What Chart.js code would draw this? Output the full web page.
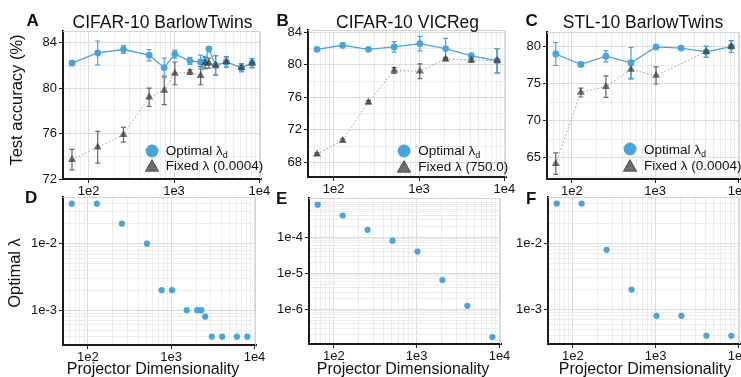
<!DOCTYPE html>
<html><head><meta charset="utf-8">
<script src="https://cdn.jsdelivr.net/npm/chart.js@4.4.1/dist/chart.umd.min.js"></script>
<style>
html,body{margin:0;padding:0;background:#fff;}
body{width:741px;height:377px;position:relative;overflow:hidden;font-family:"Liberation Sans",Arial,Helvetica,sans-serif;color:#111;}
canvas{position:absolute;}
.t{position:absolute;white-space:nowrap;line-height:1;}
svg{position:absolute;overflow:visible;}
</style></head><body>
<script>
// ---------------- DATA ----------------
const dimsFine = [64,128,256,512,768,1024,1536,2048,2304,2560,3072,4096,6144,8192];
const dimsPow2 = [64,128,256,512,1024,2048,4096,8192];

// Panel A: CIFAR-10 BarlowTwins
const accA_opt = [82.2, 83.1, 83.4, 82.9, 81.8, 83.0, 82.4, 82.3, 82.3, 83.45, 82.0, 82.3, 81.8, 82.2];
const errA_opt = [0.2, 1.05, 0.35, 0.5, 0.85, 0.35, 0.3, 0.6, 0.5, 0.15, 0.85, 0.45, 0.35, 0.4];
const accA_fix = [73.7, 74.8, 75.9, 79.2, 79.8, 81.3, 81.4, 81.1, 82.2, 82.2, 82.0, 82.3, 81.8, 82.2];
const errA_fix = [0.9, 1.4, 0.65, 0.8, 1.25, 1.0, 0.2, 0.8, 0.5, 0.45, 0.85, 0.45, 0.35, 0.4];

// Panel B: CIFAR-10 VICReg
const accB_opt = [81.9, 82.4, 81.9, 82.2, 82.6, 82.0, 81.1, 80.5];
const errB_opt = [0.2, 0.3, 0.2, 0.65, 0.9, 1.25, 0.35, 1.5];
const accB_fix = [69.0, 70.7, 75.4, 79.3, 79.2, 80.7, 80.6, 80.5];
const errB_fix = [0.15, 0.2, 0.2, 0.35, 0.9, 0.2, 0.3, 1.5];

// Panel C: STL-10 BarlowTwins
const accC_opt = [79.0, 77.6, 78.7, 77.8, 79.95, 79.8, 79.3, 80.0];
const errC_opt = [1.55, 0.3, 0.75, 2.1, 0.15, 0.15, 0.75, 0.8];
const accC_fix = [64.2, 73.8, 74.6, 76.9, 76.1, null, 79.3, 80.0];
const errC_fix = [1.45, 0.6, 1.45, 1.25, 1.15, null, 0.75, 0.8];

// Panels D-F: optimal lambda
const lamD = [0.04, 0.04, 0.02, 0.01, 0.002, 0.002, 0.001, 0.001, 0.001, 0.0008, 0.0004, 0.0004, 0.0004, 0.0004];
const lamE = [8e-4, 4e-4, 1.6e-4, 8e-5, 4e-5, 6.5e-6, 1.25e-6, 1.7e-7];
const lamF = [0.04, 0.04, 0.008, 0.002, 0.0008, 0.0008, 0.0004, 0.0004];

// Tick labels
const xMajors = [100, 1000, 10000];
const xLabels = ['1e2', '1e3', '1e4'];
const yMajA = [72, 76, 80, 84], yMinA = [74, 78, 82];
const yMajB = [68, 72, 76, 80, 84], yMinB = [70, 74, 78, 82];
const yMajC = [65, 70, 75, 80], yMinC = [62.5, 67.5, 72.5, 77.5];
const yMajDF = [1e-3, 1e-2], yLabDF = ['1e-3', '1e-2'];
const yMajE = [1e-6, 1e-5, 1e-4], yLabE = ['1e-6', '1e-5', '1e-4'];

// ---------------- STYLE ----------------
const BLUE = '#4BA3DC';
const GRAYPT = 'rgba(55,55,55,0.72)';
const GRAYERR = 'rgba(55,55,55,0.75)';
const GRID_MAJ = '#dcdcdc', GRID_MIN = '#ececec';
const FONT = '"Liberation Sans", Arial, Helvetica, sans-serif';
Chart.defaults.font.family = FONT;
Chart.defaults.font.size = 13;
Chart.defaults.color = '#111';

const PAD_T = 12, PAD_R = 18, YW = 50, XH = 24;
const X_MIN = Math.pow(10, 1.701), X_MAX = Math.pow(10, 4.018);

function logMinors(min, max) {
  const out = [];
  for (let e = Math.floor(Math.log10(min)) - 1; e <= Math.ceil(Math.log10(max)); e++) {
    for (let m = 2; m <= 9; m++) {
      const v = Number((m * Math.pow(10, e)).toPrecision(6));
      if (v > min && v < max) out.push(v);
    }
  }
  return out;
}
function buildTicks(majors, minors) {
  return [...majors.map(v => ({value: v, major: true})), ...minors.map(v => ({value: v, major: false}))]
    .sort((a, b) => a.value - b.value);
}
const gridOpts = {
  color: c => (c.tick && c.tick.major) ? GRID_MAJ : GRID_MIN,
  lineWidth: 1,
  drawTicks: true,
  tickLength: 4,
  tickWidth: 1,
  tickColor: c => (c.tick && c.tick.major) ? '#222' : 'rgba(0,0,0,0)'
};
const borderOpts = {display: true, color: '#1a1a1a', width: 2};

function logX(xMin, xMax) {
  const minors = logMinors(xMin, xMax);
  return {
    type: 'logarithmic', min: xMin, max: xMax,
    afterBuildTicks: s => { s.ticks = buildTicks(xMajors.filter(v => v >= xMin && v <= xMax), minors); },
    afterFit: s => { s.height = XH; },
    ticks: {autoSkip: false, maxRotation: 0, minRotation: 0, padding: 1, font: {size: 13},
      callback: v => { const i = xMajors.indexOf(v); return i >= 0 ? xLabels[i] : ''; }},
    grid: gridOpts, border: borderOpts
  };
}
function linY(min, max, majors, minors) {
  return {
    type: 'linear', min, max, bounds: 'data',
    afterBuildTicks: s => { s.ticks = buildTicks(majors, minors); },
    afterFit: s => { s.width = YW; },
    ticks: {autoSkip: false, padding: 2, font: {size: 13},
      callback: v => majors.includes(v) ? String(v) : ''},
    grid: gridOpts, border: borderOpts
  };
}
function logY(min, max, majors, labels) {
  const minors = logMinors(min, max);
  return {
    type: 'logarithmic', min, max,
    afterBuildTicks: s => { s.ticks = buildTicks(majors, minors); },
    afterFit: s => { s.width = YW; },
    ticks: {autoSkip: false, padding: 2, font: {size: 13},
      callback: v => { const i = majors.indexOf(v); return i >= 0 ? labels[i] : ''; }},
    grid: gridOpts, border: borderOpts
  };
}

const errorBars = {
  id: 'errorBars',
  beforeDatasetsDraw(chart) {
    const ctx = chart.ctx, xs = chart.scales.x, ys = chart.scales.y;
    chart.data.datasets.forEach(ds => {
      if (!ds.errors) return;
      ctx.save();
      ctx.strokeStyle = ds.errColor;
      ctx.lineWidth = 1.2;
      ds.data.forEach((p, j) => {
        const e = ds.errors[j];
        if (p.y == null || e == null) return;
        const x = xs.getPixelForValue(p.x);
        const y1 = ys.getPixelForValue(p.y - e), y2 = ys.getPixelForValue(p.y + e);
        ctx.beginPath();
        ctx.moveTo(x, y1); ctx.lineTo(x, y2);
        ctx.moveTo(x - 2.5, y1); ctx.lineTo(x + 2.5, y1);
        ctx.moveTo(x - 2.5, y2); ctx.lineTo(x + 2.5, y2);
        ctx.stroke();
      });
      ctx.restore();
    });
  }
};
const frame = {
  id: 'frame',
  beforeDatasetsDraw(chart) {
    const a = chart.chartArea, ctx = chart.ctx;
    ctx.save();
    ctx.strokeStyle = '#d6d6d6'; ctx.lineWidth = 1;
    ctx.beginPath();
    ctx.moveTo(a.left, a.top + 0.5); ctx.lineTo(a.right - 0.5, a.top + 0.5); ctx.lineTo(a.right - 0.5, a.bottom);
    ctx.stroke();
    ctx.restore();
  }
};

function pts(xs, ys) { return xs.map((x, i) => ({x, y: ys[i]})); }

function panel(box, datasets, yScale) {
  const c = document.createElement('canvas');
  const w = box.R - box.L + YW + PAD_R, h = box.B - box.T + PAD_T + XH;
  c.width = w; c.height = h;
  c.style.left = (box.L - YW) + 'px'; c.style.top = (box.T - PAD_T) + 'px';
  c.style.width = w + 'px'; c.style.height = h + 'px';
  document.body.appendChild(c);
  new Chart(c, {
    type: 'line',
    data: {datasets},
    options: {
      responsive: false, animation: false, devicePixelRatio: 1, events: [],
      layout: {padding: {top: PAD_T, right: PAD_R, left: 0, bottom: 0}},
      plugins: {legend: {display: false}, tooltip: {enabled: false}},
      scales: {x: logX(X_MIN, X_MAX), y: yScale}
    },
    plugins: [frame, errorBars]
  });
}

function accSets(dims, opt, eopt, fix, efix) {
  return [
    {label: 'Fixed λ', data: pts(dims, fix), errors: efix, errColor: GRAYERR, order: 0,
     borderColor: '#9a9a9a', borderWidth: 1, borderDash: [1.5, 2.2], spanGaps: true,
     pointStyle: 'triangle', pointRadius: 4.6, pointBackgroundColor: GRAYPT, pointBorderWidth: 0},
    {label: 'Optimal λd', data: pts(dims, opt), errors: eopt, errColor: BLUE, order: 1,
     borderColor: BLUE, borderWidth: 1.3, pointRadius: 3.4, pointBackgroundColor: BLUE, pointBorderWidth: 0}
  ];
}
function lamSet(dims, lam) {
  return [{label: 'Optimal λ', data: pts(dims, lam), showLine: false,
    pointRadius: 3.1, pointBackgroundColor: BLUE, pointBorderWidth: 0}];
}

panel({L: 63, R: 261, T: 31, B: 179}, accSets(dimsFine, accA_opt, errA_opt, accA_fix, errA_fix), linY(72, 85.03, yMajA, yMinA));
panel({L: 308, R: 506, T: 30, B: 177}, accSets(dimsPow2, accB_opt, errB_opt, accB_fix, errB_fix), linY(66.19, 84.28, yMajB, yMinB));
panel({L: 547, R: 740, T: 32, B: 179}, accSets(dimsPow2, accC_opt, errC_opt, accC_fix, errC_fix), linY(62.13, 81.97, yMajC, yMinC));
panel({L: 63, R: 256, T: 197, B: 345}, lamSet(dimsFine, lamD), logY(Math.pow(10, -3.498), Math.pow(10, -1.298), yMajDF, yLabDF));
panel({L: 309, R: 501, T: 198, B: 344}, lamSet(dimsPow2, lamE), logY(Math.pow(10, -6.962), Math.pow(10, -2.913), yMajE, yLabE));
panel({L: 548, R: 740, T: 197, B: 344}, lamSet(dimsPow2, lamF), logY(Math.pow(10, -3.498), Math.pow(10, -1.298), yMajDF, yLabDF));

// ---------------- TEXT ----------------
function txt(html, x, baseline, size, opts = {}) {
  const d = document.createElement('div');
  d.className = 't';
  d.innerHTML = html;
  d.style.fontSize = size + 'px';
  d.style.lineHeight = size + 'px';
  d.style.top = (baseline - 0.8465 * size) + 'px';
  d.style.left = x + 'px';
  if (opts.bold) d.style.fontWeight = 'bold';
  if (opts.center) d.style.transform = 'translateX(-50%)';
  document.body.appendChild(d);
  return d;
}
function rtxt(html, cx, cy, size) {
  const d = document.createElement('div');
  d.className = 't';
  d.innerHTML = html;
  d.style.fontSize = size + 'px';
  d.style.lineHeight = size + 'px';
  d.style.left = cx + 'px'; d.style.top = cy + 'px';
  d.style.transform = 'translate(-50%,-50%) rotate(-90deg)';
  document.body.appendChild(d);
}
// titles
txt('CIFAR-10 BarlowTwins', 162.5, 29.3, 17.5, {center: true});
txt('CIFAR-10 VICReg', 407.5, 29.3, 17.5, {center: true});
txt('STL-10 BarlowTwins', 643, 29.3, 17.5, {center: true});
// panel letters
txt('A', 26.5, 26.8, 17, {bold: true});
txt('B', 276.5, 26.8, 17, {bold: true});
txt('C', 525.5, 26.8, 17, {bold: true});
txt('D', 25, 203.5, 17, {bold: true});
txt('E', 276, 204.3, 17, {bold: true});
txt('F', 526, 204.3, 17, {bold: true});
// axis titles
rtxt('Test accuracy (%)', 16, 100, 16.5);
rtxt('Optimal λ', 14, 272.5, 16.5);
txt('Projector Dimensionality', 153, 374.5, 16, {center: true});
txt('Projector Dimensionality', 403, 374.5, 16, {center: true});
txt('Projector Dimensionality', 645, 374.5, 16, {center: true});

// legends
function legend(cx, cy1, cy2, fixedLabel) {
  const s1 = document.createElementNS('http://www.w3.org/2000/svg', 'svg');
  s1.setAttribute('width', 14); s1.setAttribute('height', 14);
  s1.style.left = (cx - 7) + 'px'; s1.style.top = (cy1 - 7) + 'px';
  s1.innerHTML = `<circle cx="7" cy="7" r="6.4" fill="${BLUE}"/>`;
  document.body.appendChild(s1);
  const s2 = document.createElementNS('http://www.w3.org/2000/svg', 'svg');
  s2.setAttribute('width', 14); s2.setAttribute('height', 13);
  s2.style.left = (cx - 7) + 'px'; s2.style.top = (cy2 - 6.5) + 'px';
  s2.innerHTML = '<polygon points="7,0.6 13.6,12.2 0.4,12.2" fill="#6d6d6d" stroke="#3a3a3a" stroke-width="0.8"/>';
  document.body.appendChild(s2);
  txt('Optimal λ<span style="font-size:9px;position:relative;top:3px">d</span>', cx + 14, cy1 + 5, 13.5);
  txt(fixedLabel, cx + 14, cy2 + 5, 13.5);
}
legend(151.7, 150.7, 165.7, 'Fixed λ (0.0004)');
legend(404.3, 150.7, 166, 'Fixed λ (750.0)');
legend(630, 149, 165, 'Fixed λ (0.0004)');
</script>
</body></html>
